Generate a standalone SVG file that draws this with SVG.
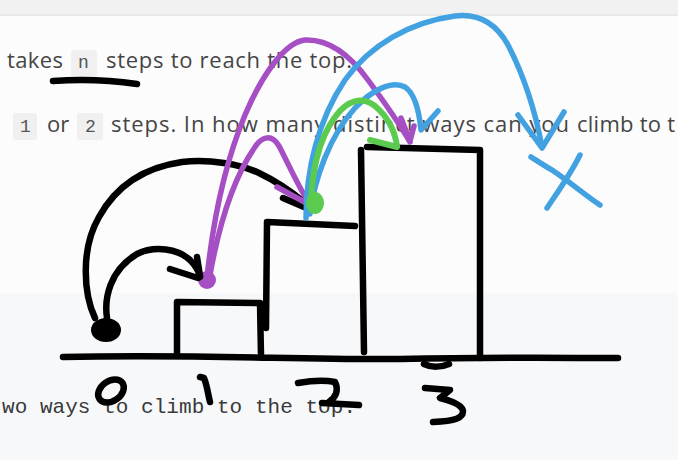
<svg xmlns="http://www.w3.org/2000/svg" width="678" height="460" viewBox="0 0 678 460">
<style>
.t{font-family:"Open Sans","Noto Sans",sans-serif;font-size:22px;fill:#454545}
.c{font-family:"Liberation Mono","DejaVu Sans Mono",monospace;font-size:18px;fill:#555}
.m{font-family:"Liberation Mono","DejaVu Sans Mono",monospace;font-size:21px;fill:#3a3a3a}
.cb{fill:#f0f0f1}
.s{fill:none;stroke-linecap:round;stroke-linejoin:round}
.k{stroke:#000;stroke-width:6.5}
.p{stroke:#a64fc4;stroke-width:5.5}
.g{stroke:#5acb4e;stroke-width:6}
.b{stroke:#42a1e1;stroke-width:5.5}
</style>
<g id="background">
<rect x="0" y="0" width="678" height="460" fill="#fcfcfc"/>
<rect x="0" y="293" width="678" height="167" fill="#f7f8fa"/>
<rect x="0" y="0" width="678" height="14" fill="#f1f1f1"/>
<rect x="0" y="14" width="678" height="2" fill="#e8e8e8"/>
</g>
<g id="text">
<text class="t" x="7" y="68" textLength="56">takes</text>
<rect class="cb" x="71" y="50" width="26" height="27" rx="3"/>
<text class="c" x="78" y="68">n</text>
<text class="t" x="106" y="68" textLength="246">steps to reach the top.</text>
<rect class="cb" x="13" y="113" width="24" height="27" rx="3"/>
<text class="c" x="20" y="132">1</text>
<text class="t" x="47" y="132">or</text>
<rect class="cb" x="77" y="113" width="26" height="27" rx="3"/>
<text class="c" x="85" y="132">2</text>
<text class="t" x="111" y="132" textLength="458">steps. In how many distinct ways can you</text>
<text class="t" x="577" y="132" textLength="98">climb to t</text>
<text class="m" x="2" y="413" textLength="354">wo ways to climb to the top.</text>
</g>
<g id="underline">
<path class="s k" d="M53,81 C80,79 110,80 137,84" stroke-width="8"/>
</g>
<g id="stairs">
<path class="s k" d="M63,357 C200,354 300,360 400,359 C500,357 560,358 618,358" stroke-width="7.5"/>
<path class="s k" d="M424,364 C432,368 442,367 449,364" stroke-width="7"/>
<path class="s k" d="M177,354 L177,302 L260,303 L261,356"/>
<path class="s k" d="M266,328 L267,222 L355,226"/>
<path class="s k" d="M361,150 L364,352"/>
<path class="s k" d="M367,147 L480,150 L480,358"/>
</g>
<g id="labels">
<ellipse class="s k" cx="111" cy="391" rx="14" ry="10" transform="rotate(-35 111 391)" stroke-width="5.5"/>
<path class="s k" d="M200,377 L204,378 C207,385 208,394 210,402" stroke-width="5.5"/>
<path class="s k" d="M298,383 C310,381 324,380 335,382 C339,390 336,397 329,402 M322,403 L359,405" stroke-width="5.5"/>
<path class="s k" d="M425,388 L450,390 C446,393 443,396 440,398 C452,401 462,405 463,411 C463,418 456,421 433,422" stroke-width="5.5"/>
</g>
<g id="node-0">
<ellipse cx="106" cy="330" rx="15" ry="12" fill="#000"/>
</g>
<g id="node-1">
<circle cx="207" cy="280" r="9" fill="#a64fc4"/>
</g>
<g id="connectors">
<path class="s k" d="M95,318 C84,295 80,250 99,217 C115,188 140,168 182,162 C210,159 240,164 259,173 C278,182 292,192 305,203"/>
<path class="s k" d="M283,198 L304,207"/>
<path class="s k" d="M107,318 C104,298 110,270 137,254 C155,245 178,249 190,260 C196,266 199,272 200,277"/>
<path class="s k" d="M170,269 L198,278 M197,257 L200,276"/>
<path class="s p" d="M207,278 C212,230 222,170 245,115 C262,75 285,42 305,40 C330,39 350,55 368,80 C385,103 400,125 410,142"/>
<path class="s p" d="M401,118 L410,141 L414,126"/>
<path class="s p" d="M210,275 C218,230 232,180 255,147 C262,136 272,134 279,146 C288,163 298,186 309,203"/>
<path class="s p" d="M277,187 L308,204"/>
<path class="s b" d="M306,218 C306,170 318,120 345,80 C370,45 410,22 455,16 C480,13 497,25 508,45 C522,72 535,110 542,147"/>
<path class="s b" d="M518,115 L542,148 L564,112"/>
<path class="s b" d="M310,214 C314,180 330,135 355,108 C372,90 392,80 405,87 C414,93 419,110 421,130 L438,111"/>
<path class="s g" d="M311,208 C311,175 318,140 335,117 C347,100 362,96 375,106 C388,117 395,132 397,146"/>
<path class="s g" d="M370,140 L397,147"/>
</g>
<g id="node-2">
<ellipse cx="315" cy="203" rx="9" ry="11" fill="#5acb4e"/>
</g>
<g id="cross">
<path class="s b" d="M531,157 C545,166 548,168 552,170 C570,182 585,195 600,205" stroke-width="6.5"/>
<path class="s b" d="M580,155 C570,175 557,193 547,208" stroke-width="6"/>
</g>
</svg>
